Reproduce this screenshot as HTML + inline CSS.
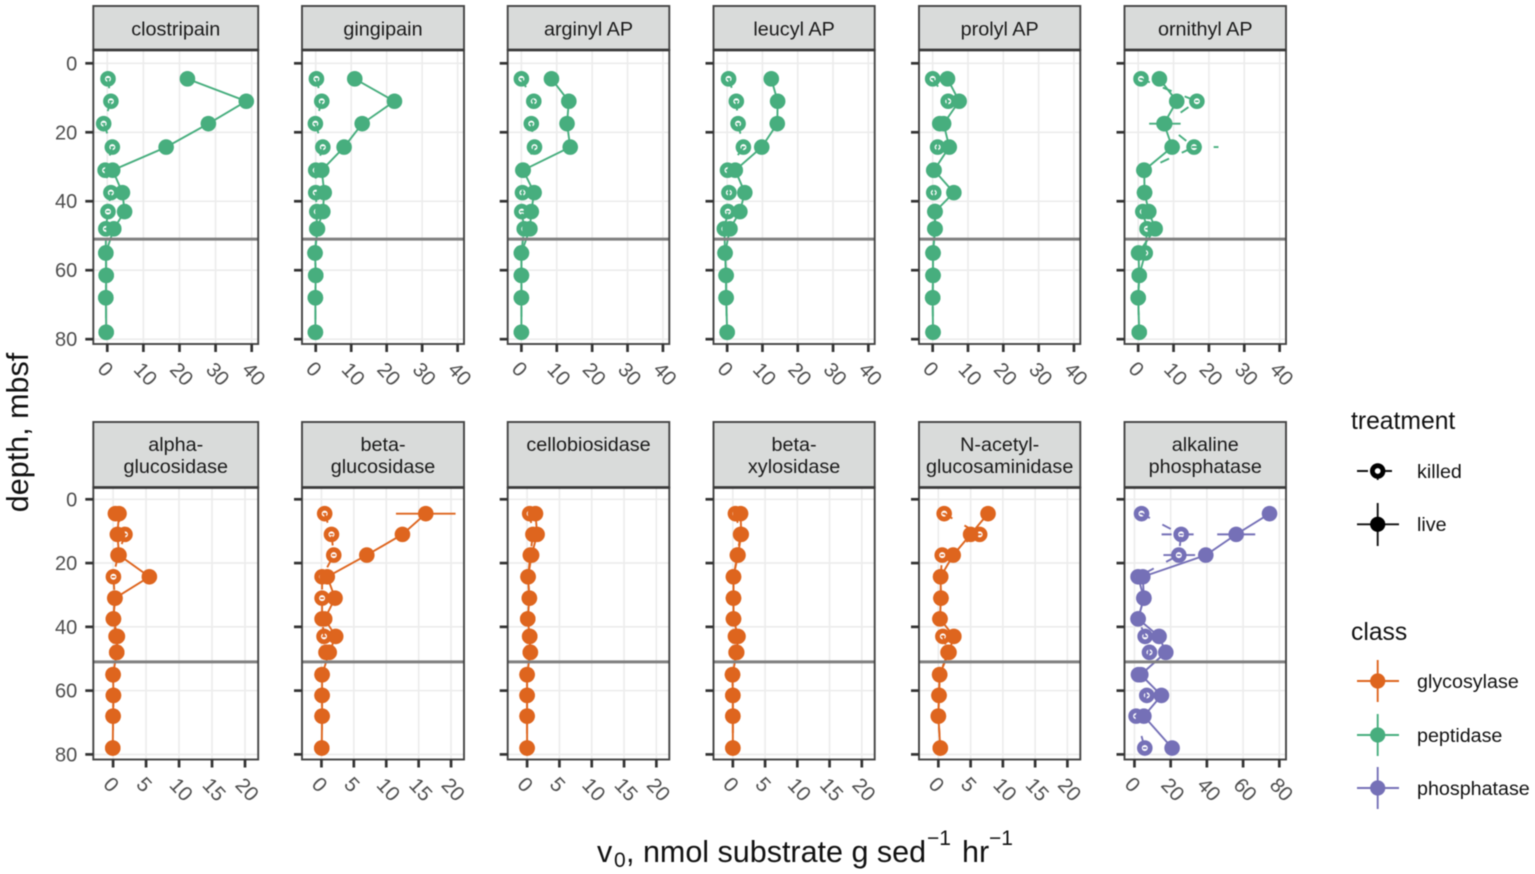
<!DOCTYPE html>
<html lang="en">
<head>
<meta charset="utf-8">
<title>Enzyme activity by depth</title>
<style>
html,body{margin:0;padding:0;background:#fff;width:1535px;height:874px;overflow:hidden}
svg{display:block;font-family:"Liberation Sans",Arial,sans-serif;filter:blur(0.4px)}
</style>
</head>
<body>
<svg id="chart" width="1535" height="874" viewBox="0 0 1535 874" xmlns="http://www.w3.org/2000/svg">
<rect width="1535" height="874" fill="#fff"/>
<g id="panels"></g>
<text transform="translate(28,432.5) rotate(-90)" text-anchor="middle" font-size="30.5" fill="#111">depth, mbsf</text>
<g fill="#111">
<text x="597" y="862" font-size="30.5">v</text>
<text x="614" y="867" font-size="21">0</text>
<text x="626" y="862" font-size="30.5">, nmol substrate g sed</text>
<text x="927" y="845" font-size="21">−1</text>
<text x="962" y="862" font-size="30.5">hr</text>
<text x="989" y="845" font-size="21">−1</text>
</g>
<g>
<text x="1351" y="429" font-size="24.7" fill="#111">treatment</text>
<g>
<line x1="1357" x2="1399" y1="471" y2="471" stroke="#111" stroke-width="1.9" stroke-dasharray="11 13"/>
<line x1="1377.7" x2="1377.7" y1="456" y2="493" stroke="#111" stroke-width="1.9" stroke-dasharray="11 13" stroke-dashoffset="11"/>
<circle cx="1377.7" cy="471" r="5.3" fill="#fff" stroke="#000" stroke-width="4.8"/>
<text x="1417" y="478" font-size="19.7" fill="#111">killed</text>
</g>
<g>
<line x1="1357" x2="1399" y1="524.3" y2="524.3" stroke="#111" stroke-width="1.9"/>
<line x1="1377.7" x2="1377.7" y1="503" y2="546" stroke="#111" stroke-width="1.9"/>
<circle cx="1377.7" cy="524.3" r="7.6" fill="#000"/>
<text x="1417" y="531" font-size="19.7" fill="#111">live</text>
</g>
<text x="1351" y="640" font-size="24.7" fill="#111">class</text>
<g>
<line x1="1357" x2="1399" y1="681" y2="681" stroke="#de651e" stroke-width="1.9"/>
<line x1="1377.7" x2="1377.7" y1="660" y2="702" stroke="#de651e" stroke-width="1.9"/>
<circle cx="1377.7" cy="681" r="7.6" fill="#de651e"/>
<text x="1417" y="688" font-size="19.7" fill="#111">glycosylase</text>
</g>
<g>
<line x1="1357" x2="1399" y1="735" y2="735" stroke="#47ae7e" stroke-width="1.9"/>
<line x1="1377.7" x2="1377.7" y1="714" y2="756" stroke="#47ae7e" stroke-width="1.9"/>
<circle cx="1377.7" cy="735" r="7.6" fill="#47ae7e"/>
<text x="1417" y="742" font-size="19.7" fill="#111">peptidase</text>
</g>
<g>
<line x1="1357" x2="1399" y1="788" y2="788" stroke="#7570b7" stroke-width="1.9"/>
<line x1="1377.7" x2="1377.7" y1="767" y2="809" stroke="#7570b7" stroke-width="1.9"/>
<circle cx="1377.7" cy="788" r="7.6" fill="#7570b7"/>
<text x="1417" y="795" font-size="19.7" fill="#111">phosphatase</text>
</g>
</g>
</svg>
<script>
// ---- data ----
const depths = [4.5, 11, 17.5, 24.3, 31, 37.5, 43, 48, 55, 61.5, 68, 78];
const sulfateDepth = 51;
const enzymeNames = [["clostripain"],["gingipain"],["arginyl AP"],["leucyl AP"],["prolyl AP"],["ornithyl AP"],
  ["alpha-","glucosidase"],["beta-","glucosidase"],["cellobiosidase"],["beta-","xylosidase"],["N-acetyl-","glucosaminidase"],["alkaline","phosphatase"]];
const enzymeClasses = ["peptidase","peptidase","peptidase","peptidase","peptidase","peptidase",
  "glycosylase","glycosylase","glycosylase","glycosylase","glycosylase","phosphatase"];

const liveClostripain = [22.2,38.5,28,16.3,1.5,4.2,4.8,1.8,-0.4,-0.3,-0.4,-0.3];
const killedClostripain = [0.2,1,-1,1.4,-0.6,1,0.2,-0.4,-0.4,-0.3,-0.4,-0.3];
const liveGingipain = [11,22.2,13.1,8,1.7,2.4,2,0.5,-0.2,0,-0.1,-0.1];
const killedGingipain = [0.2,1.7,-0.1,2,0,0,0.3,0.3,-0.2,0,-0.1,-0.1];
const liveArginyl = [8.5,13.4,12.9,13.8,0.5,3.6,2.8,2.4,0,0,0,0];
const killedArginyl = [0,3.5,2.8,3.7,0.4,0.3,0.1,0.8,0,0,0,0];
const liveLeucyl = [12.5,14.3,14.2,9.8,2.3,5,3.6,0.8,-0.6,-0.3,-0.3,0];
const killedLeucyl = [0.4,2.6,3.1,4.6,0.1,0.5,0.2,-0.8,-0.6,-0.3,-0.3,0];
const liveProlyl = [4.2,7.5,3.1,4.7,0.4,6,0.7,0.7,0.1,0.1,0,0.1];
const killedProlyl = [0,4.4,2,1.4,0.3,0.3,0.6,0.6,0.1,0.1,0,0.1];
const liveOrnithyl = [6,10.9,7.3,9.6,1.7,1.8,3,4.8,0.1,0.3,0,0.3];
const killedOrnithyl = [0.8,16.6,7.5,15.8,1.6,1.8,1.3,2.5,2,0.3,0,0.3];
const liveAlphaGluc = [0.9,0.65,0.9,5.5,0.3,0.05,0.65,0.55,0,0.05,0,-0.05];
const killedAlphaGluc = [0.35,1.8,0.75,0.05,0.25,0.05,0.45,0.55,0,0.05,0,-0.05];
const liveBetaGluc = [16.1,12.5,7,0.9,2.1,0.5,2.2,1.2,0.1,0.1,0.1,0.05];
const killedBetaGluc = [0.5,1.55,1.9,0.1,0.1,0.1,0.4,0.7,0.1,0.1,0.1,0.05];
const liveCellobio = [1.3,1.55,0.7,0.15,0.35,0.1,0.4,0.5,0,0,0,0];
const killedCellobio = [0.4,0.9,0.5,0.15,0.35,0.1,0.4,0.5,0,0,0,0];
const liveXylo = [1.2,1.3,0.8,0.1,0.1,0.1,0.8,0.6,-0.05,0,0,0];
const killedXylo = [0.4,1.2,0.7,0.1,0.1,0.1,0.4,0.5,-0.05,0,0,0];
const liveNag = [7.7,5,2.3,0.35,0.4,0.25,2.4,1.65,0.2,0.1,0,0.3];
const killedNag = [0.9,6.4,0.6,0.35,0.4,0.25,0.7,1.5,0.2,0.1,0,0.3];
const liveAlkPhos = [74.6,56.2,39.4,4.6,5.2,2,13.6,17.3,3.5,14.9,5.2,20.8];
const killedAlkPhos = [3.9,25.8,24.5,2,5.2,2,5.9,8.3,2.2,6.8,0.9,5.7];

const liveSeries = [liveClostripain,liveGingipain,liveArginyl,liveLeucyl,liveProlyl,liveOrnithyl,liveAlphaGluc,liveBetaGluc,liveCellobio,liveXylo,liveNag,liveAlkPhos];
const killedSeries = [killedClostripain,killedGingipain,killedArginyl,killedLeucyl,killedProlyl,killedOrnithyl,killedAlphaGluc,killedBetaGluc,killedCellobio,killedXylo,killedNag,killedAlkPhos];

// error bars readable in the picture: panel index, treatment, depth index, low, high
const errPanel = [5,5,7,11,11,11];
const errTreatment = ["killed","killed","live","live","killed","killed"];
const errDepthIndex = [2,3,0,1,1,2];
const errLow = [3.1,8.9,11.5,45.7,15,16];
const errHigh = [12,22.7,20.7,66.7,35,33.5];
// typical half width of the small error bar on killed replicates
const killedErrHalf = [0.5,0.5,0.5,0.5,0.5,0.5,0.28,0.28,0.28,0.28,0.28,1];

const xTicksPeptidase = [0,10,20,30,40];
const xTicksGlycosylase = [0,5,10,15,20];
const xTicksPhosphatase = [0,20,40,60,80];
const yTicks = [0,20,40,60,80];
const xDomainPeptidase = [-3.87,41.8];
const xDomainGlycosylase = [-3,22];
const xDomainPhosphatase = [-5.5,83.7];
const yDomainTop = [-3.86,81.4];
const yDomainBottom = [-3.7,81.6];

// ---- layout ----
const colLeft = [93.3,302,507.7,713.5,919,1124.5];
const colRight = [258.2,464,669.3,874.7,1080.3,1286];
const rows = [{strip:6,top:50,bottom:344},{strip:422,top:487.5,bottom:759.5}];
const classColor = {glycosylase:"#de651e",peptidase:"#47ae7e",phosphatase:"#7570b7"};
const NS = "http://www.w3.org/2000/svg";
const root = document.getElementById("panels");

function mk(tag, attrs, parent){
  const el = document.createElementNS(NS, tag);
  for (const k in attrs) el.setAttribute(k, attrs[k]);
  parent.appendChild(el);
  return el;
}
function slug(i){ return enzymeNames[i].join(" ").replace(/[^a-zA-Z]+/g,"-").toLowerCase(); }

enzymeNames.forEach(function(lines, i){
  const col = i % 6, rowIndex = i < 6 ? 0 : 1, row = rows[rowIndex];
  const L = colLeft[col], R = colRight[col], T = row.top, B = row.bottom;
  const cls = enzymeClasses[i], color = classColor[cls];
  const xDomain = cls === "peptidase" ? xDomainPeptidase : (cls === "phosphatase" ? xDomainPhosphatase : xDomainGlycosylase);
  const xTicks = cls === "peptidase" ? xTicksPeptidase : (cls === "phosphatase" ? xTicksPhosphatase : xTicksGlycosylase);
  const yDomain = rowIndex === 0 ? yDomainTop : yDomainBottom;
  const sx = function(v){ return L + (v - xDomain[0]) / (xDomain[1] - xDomain[0]) * (R - L); };
  const sy = function(v){ return T + (v - yDomain[0]) / (yDomain[1] - yDomain[0]) * (B - T); };
  const name = slug(i);

  const g = mk("g", {}, root);
  
  

  // gridlines
  xTicks.forEach(function(t){
    const gl = mk("line", {x1:sx(t),x2:sx(t),y1:T,y2:B,stroke:"#ececec","stroke-width":1.6}, g);
    
    
  });
  yTicks.forEach(function(t){
    const gl = mk("line", {x1:L,x2:R,y1:sy(t),y2:sy(t),stroke:"#ececec","stroke-width":1.6}, g);
    
    
  });

  // killed points, then dashed killed line and error bars over them
  const killed = killedSeries[i], live = liveSeries[i];
  killed.forEach(function(v, j){
    const c = mk("circle", {cx:sx(v),cy:sy(depths[j]),r:5.4,fill:"#fff",stroke:color,"stroke-width":4.8}, g);
    
    
  });
  killed.forEach(function(v, j){
    const e = mk("line", {x1:sx(v-killedErrHalf[i]),x2:sx(v+killedErrHalf[i]),y1:sy(depths[j]),y2:sy(depths[j]),stroke:color,"stroke-width":1.6}, g);
    
    
  });
  const killedLine = mk("polyline", {points:killed.map(function(v,j){return sx(v)+","+sy(depths[j]);}).join(" "),fill:"none",stroke:color,"stroke-width":1.9,"stroke-dasharray":"9.5 14"}, g);
  
  

  errPanel.forEach(function(p, k){
    if (p !== i) return;
    const y = sy(depths[errDepthIndex[k]]);
    const attrs = {x1:sx(errLow[k]),x2:sx(errHigh[k]),y1:y,y2:y,stroke:color,"stroke-width":1.9};
    if (errTreatment[k] === "killed") attrs["stroke-dasharray"] = "10 12";
    const e = mk("line", attrs, g);
    
    
  });

  // live line and points
  const liveLine = mk("polyline", {points:live.map(function(v,j){return sx(v)+","+sy(depths[j]);}).join(" "),fill:"none",stroke:color,"stroke-width":1.9}, g);
  
  
  live.forEach(function(v, j){
    const c = mk("circle", {cx:sx(v),cy:sy(depths[j]),r:7.8,fill:color}, g);
    
    
  });

  // sulfate depth line
  const h = mk("line", {x1:L,x2:R,y1:sy(sulfateDepth),y2:sy(sulfateDepth),stroke:"#808080","stroke-width":3}, g);
  
  

  // panel border
  const border = mk("rect", {x:L,y:T,width:R-L,height:B-T,fill:"none",stroke:"#444","stroke-width":1.9}, g);
  
  

  // strip
  const strip = mk("rect", {x:L,y:row.strip,width:R-L,height:T-row.strip,fill:"#d9dbda",stroke:"#444","stroke-width":1.9}, g);
  
  
  const stripEdge = mk("line", {x1:L,x2:R,y1:T,y2:T,stroke:"#3a3a3a","stroke-width":2.8}, g);
  
  
  lines.forEach(function(s, k){
    const base = rowIndex === 0 ? 35.5 : 451 + k * 22;
    const tx = mk("text", {x:(L+R)/2,y:base,"text-anchor":"middle","font-size":19.8,fill:"#1a1a1a"}, g);
    
    
    tx.textContent = s;
  });

  // x ticks
  xTicks.forEach(function(t){
    const tk = mk("line", {x1:sx(t),x2:sx(t),y1:B,y2:B+8,stroke:"#333","stroke-width":2.7}, g);
    
    
    const two = t >= 10;
    const lx = sx(t) + (two ? 2.2 : -1.8), ly = B + (two ? 30 : 25);
    const tl = mk("text", {transform:"translate("+lx+","+ly+") rotate(47)","text-anchor":"middle",y:7,"font-size":20.5,fill:"#4d4d4d"}, g);
    
    
    tl.textContent = t;
  });

  // y ticks
  yTicks.forEach(function(t){
    const tk = mk("line", {x1:L-8,x2:L,y1:sy(t),y2:sy(t),stroke:"#333","stroke-width":2.7}, g);
    
    
    if (col === 0) {
      const tl = mk("text", {x:L-16,y:sy(t)+7,"text-anchor":"end","font-size":20,fill:"#4d4d4d"}, g);
      
      
      tl.textContent = t;
    }
  });
});
</script>
</body>
</html>
